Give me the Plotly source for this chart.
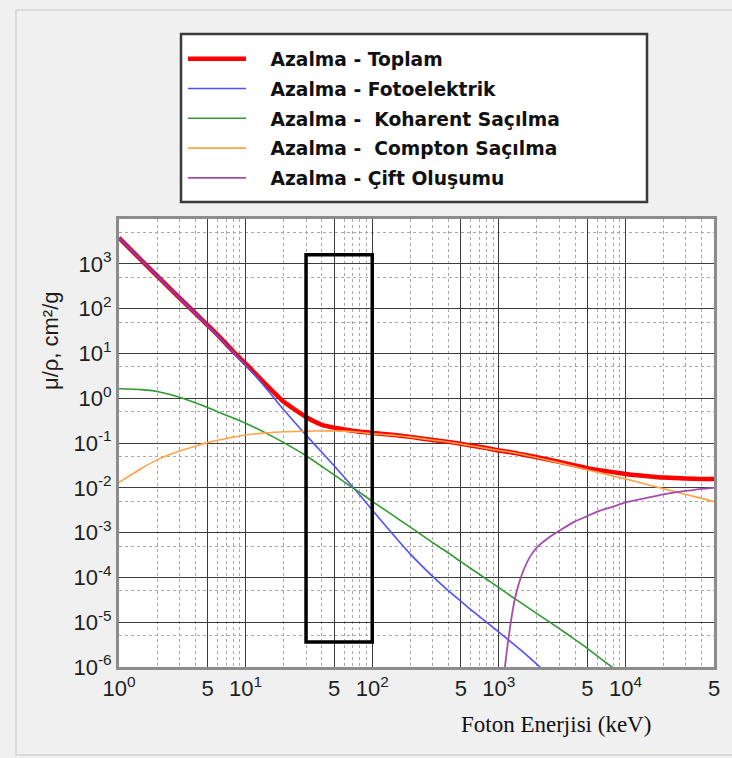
import plotly.graph_objects as go

# ---- data ----
energy_kev = [1, 1.5, 2, 3, 4, 5, 6, 8, 10, 15, 20, 30, 40, 50, 60, 80, 100, 150, 200,
              300, 400, 500, 600, 800, 1000, 1250, 1500, 2000, 3000, 4000, 5000, 6000,
              8000, 10000, 15000, 20000, 30000, 40000, 50000]

total = [3800, 1200, 540, 174, 79, 43, 26, 11.0, 5.9, 1.82, 0.83, 0.38, 0.255, 0.22, 0.20,
         0.178, 0.168, 0.150, 0.137, 0.117, 0.106, 0.096, 0.088, 0.077, 0.068, 0.062, 0.056,
         0.048, 0.038, 0.0316, 0.0275, 0.025, 0.0224, 0.0204, 0.0182, 0.0170, 0.0162, 0.0158,
         0.0158]

compton = [0.0132, 0.027, 0.042, 0.066, 0.085, 0.102, 0.115, 0.135, 0.151, 0.170, 0.178,
           0.184, 0.186, 0.186, 0.184, 0.174, 0.162, 0.148, 0.135, 0.116, 0.105, 0.095,
           0.087, 0.076, 0.068, 0.062, 0.056, 0.047, 0.036, 0.0295, 0.025, 0.0224, 0.0182,
           0.0158, 0.0117, 0.0095, 0.0071, 0.0058, 0.0049]

photo_energy = [1, 1.5, 2, 3, 4, 5, 6, 8, 10, 15, 20, 30, 40, 50, 60, 80, 100, 150, 200,
                300, 400, 500, 600, 800, 1000, 1250, 1500, 2000, 3000]
photo = [3800, 1200, 538, 172, 78, 42, 25, 10.5, 5.5, 1.49, 0.55, 0.15, 0.062, 0.031,
         0.0174, 0.0068, 0.0032, 0.00083, 0.00033, 1.05e-4, 5.0e-5, 2.95e-5, 1.9e-5, 1.0e-5,
         6.0e-6, 3.6e-6, 2.35e-6, 1.15e-6, 4.0e-7]

coh_energy = [1, 1.5, 2, 3, 4, 5, 6, 8, 10, 15, 20, 30, 40, 50, 60, 80, 100, 150, 200,
              300, 400, 500, 600, 800, 1000, 1250, 1500, 2000, 3000, 4000, 5000, 6000,
              8000, 10000]
coherent = [1.62, 1.55, 1.41, 1.05, 0.79, 0.62, 0.50, 0.36, 0.275, 0.158, 0.102, 0.052,
            0.030, 0.0195, 0.0135, 0.0078, 0.0050, 0.0023, 0.00132, 0.0006, 0.00035,
            0.000224, 0.000158, 9.1e-5, 5.9e-5, 3.8e-5, 2.7e-5, 1.55e-5, 7.2e-6, 4.1e-6,
            2.6e-6, 1.75e-6, 9.5e-7, 6.0e-7]

pair_energy = [1030, 1120, 1250, 1350, 1500, 1750, 2000, 2500, 3000, 4000, 5000, 6000,
               8000, 10000, 15000, 20000, 30000, 40000, 50000]
pair = [6e-8, 1.07e-6, 1.12e-5, 3.7e-5, 1.05e-4, 2.8e-4, 4.7e-4, 7.9e-4, 1.1e-3, 1.78e-3,
        2.34e-3, 2.95e-3, 3.8e-3, 4.7e-3, 6.0e-3, 7.1e-3, 8.5e-3, 9.5e-3, 1.0e-2]

series_names = ["Azalma - Toplam", "Azalma - Fotoelektrik",
                "Azalma -\u00a0 Koharent Saçılma", "Azalma -\u00a0 Compton Saçılma",
                "Azalma - Çift Oluşumu"]

x_tickvals = [1, 5, 10, 50, 100, 500, 1000, 5000, 10000, 50000]
x_ticktext = ["10<sup>0</sup>", "5", "10<sup>1</sup>", "5", "10<sup>2</sup>", "5",
              "10<sup>3</sup>", "5", "10<sup>4</sup>", "5"]
x_minor = [m * 10 ** d for d in range(0, 5) for m in (2, 3, 4, 6, 7, 8, 9) if m * 10 ** d < 50000]

y_tickvals = [10.0 ** p for p in range(-6, 4)]
y_ticktext = ["10<sup>%d</sup>" % p for p in range(-6, 4)]
y_minor = [5 * 10.0 ** p for p in range(-6, 4)]

box_x = [30, 100]
box_y = [3.6e-6, 1600]

# ---- figure ----
W, H = 732, 758
L, R, T, B = 119, 18, 219, 91
pw, ph = W - L - R, H - T - B


def px_x(p):
    return (p - L) / pw


def px_y(p):
    return (H - B - p) / ph


fig = go.Figure()
styles = [("#ff0000", 4.5), ("#5050ff", 1.6), ("#2f9a2f", 1.6), ("#ffa347", 1.6), ("#a64dab", 1.8)]
xs = [energy_kev, photo_energy, coh_energy, energy_kev, pair_energy]
ys = [total, photo, coherent, compton, pair]
pad = "\u00a0\u00a0\u00a0"
for i, (name, (col, w)) in enumerate(zip(series_names, styles)):
    fig.add_trace(go.Scatter(x=xs[i], y=ys[i], mode="lines", name=pad + name,
                             legendgroup="g%d" % i,
                             line=dict(color=col, width=w, shape="spline", smoothing=0.5)))

axis_common = dict(
    type="log", showline=True, linecolor="#8c8c8c", linewidth=3, mirror=True,
    showgrid=True, gridcolor="#3c3c3c", gridwidth=1.4, zeroline=False, ticks="",
    tickfont=dict(family="Liberation Sans, Arial, sans-serif", size=22, color="#1e1e1e"),
)
fig.update_xaxes(range=[0, 4.69897], tickmode="array", tickvals=x_tickvals, ticktext=x_ticktext,
                 minor=dict(tickvals=x_minor, showgrid=True, gridcolor="#a8a8a8",
                            griddash="dot", gridwidth=1, ticks=""),
                 **axis_common)
fig.update_yaxes(range=[-6, 4], tickmode="array", tickvals=y_tickvals, ticktext=y_ticktext,
                 minor=dict(tickvals=y_minor, showgrid=True, gridcolor="#a8a8a8",
                            griddash="dot", gridwidth=1, ticks=""),
                 **axis_common)

fig.add_shape(type="rect", xref="x", yref="y", x0=box_x[0], x1=box_x[1], y0=box_y[0],
              y1=box_y[1], line=dict(color="#000000", width=3.5), layer="above")

# legend frame
fig.add_shape(type="rect", xref="paper", yref="paper", x0=px_x(181), x1=px_x(647),
              y0=px_y(202), y1=px_y(34), line=dict(color="#3a3a3a", width=2.5),
              fillcolor="#ffffff", layer="below")
# outer panel frame
fig.add_shape(type="rect", xref="paper", yref="paper", x0=px_x(16), x1=px_x(745),
              y0=px_y(755), y1=px_y(10), line=dict(color="#d2d2d2", width=1.5),
              layer="below")

fig.add_annotation(text="μ/ρ, cm²/g", xref="paper", yref="paper", x=px_x(50), y=px_y(341),
                   textangle=-90, showarrow=False, xanchor="center", yanchor="middle",
                   font=dict(family="Liberation Sans, Arial, sans-serif", size=22, color="#1e1e1e"))
fig.add_annotation(text="Foton Enerjisi (keV)", xref="paper", yref="paper", x=px_x(556),
                   y=px_y(724), showarrow=False, xanchor="center", yanchor="middle",
                   font=dict(family="Liberation Serif, Times New Roman, serif", size=23,
                             color="#111111"))

fig.update_layout(
    width=W, height=H, margin=dict(l=L, r=R, t=T, b=B, pad=0),
    paper_bgcolor="#f0f0f0", plot_bgcolor="#ffffff",
    showlegend=True,
    legend=dict(x=px_x(183), y=px_y(40), xanchor="left", yanchor="top",
                bgcolor="rgba(0,0,0,0)", borderwidth=0, itemwidth=58,
                tracegroupgap=2.5,
                font=dict(family="DejaVu Sans, Verdana, sans-serif", size=18.7,
                          color="#111111", weight="bold")),
)

fig.write_html("out.html")
